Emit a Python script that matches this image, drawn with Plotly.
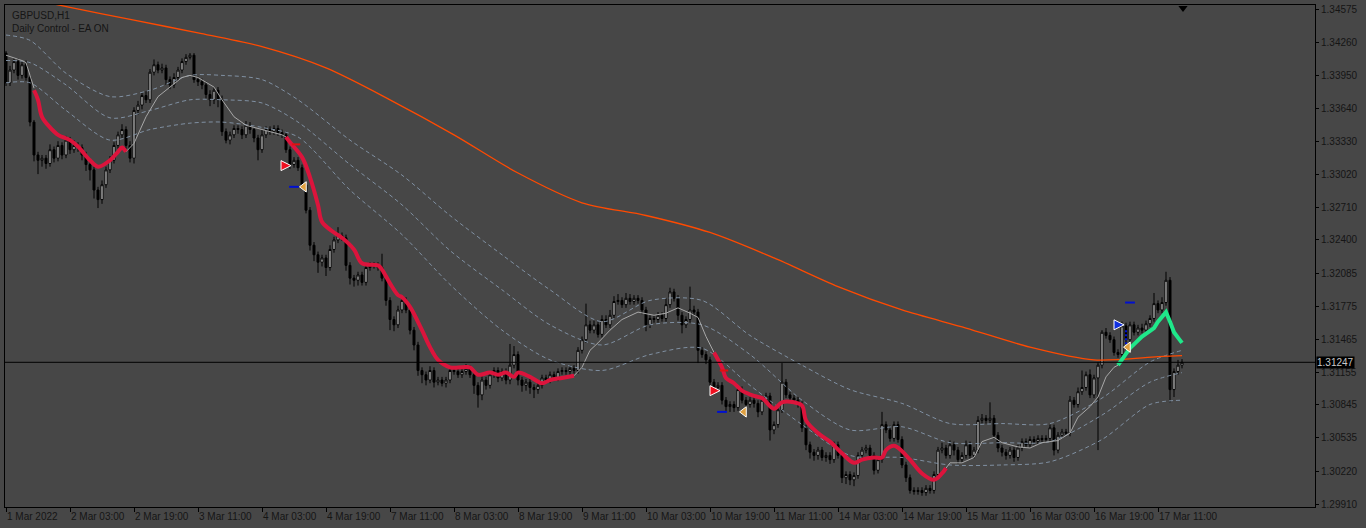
import plotly.graph_objects as go

# ---------------- data ----------------
O0 = 1.3416
C = [1.3388, 1.3400, 1.3408, 1.3395, 1.3405, 1.3393, 1.3351, 1.3320, 1.3315, 1.3317,
     1.3312, 1.3325, 1.3317, 1.3329, 1.3320, 1.3334, 1.3325, 1.3329, 1.3327, 1.3320,
     1.3311, 1.3306, 1.3287, 1.3278, 1.3292, 1.3306, 1.3315, 1.3329, 1.3339, 1.3344,
     1.3329, 1.3317, 1.3362, 1.3367, 1.3376, 1.3372, 1.3398, 1.3405, 1.3400, 1.3402,
     1.3391, 1.3386, 1.3393, 1.3400, 1.3408, 1.3412, 1.3414, 1.3391, 1.3389, 1.3386,
     1.3377, 1.3372, 1.3381, 1.3372, 1.3342, 1.3334, 1.3339, 1.3345, 1.3344, 1.3339,
     1.3348, 1.3344, 1.3336, 1.3325, 1.3339, 1.3344, 1.3342, 1.3345, 1.3341, 1.3339,
     1.3325, 1.3311, 1.3315, 1.3308, 1.3292, 1.3268, 1.3235, 1.3226, 1.3219, 1.3223,
     1.3214, 1.3231, 1.3240, 1.3244, 1.3242, 1.3216, 1.3204, 1.3202, 1.3207, 1.3200,
     1.3214, 1.3216, 1.3216, 1.3214, 1.3204, 1.3183, 1.3165, 1.3160, 1.3174, 1.3183,
     1.3174, 1.3155, 1.3141, 1.3117, 1.3113, 1.3108, 1.3117, 1.3106, 1.3108, 1.3105,
     1.3108, 1.3117, 1.3116, 1.3113, 1.3116, 1.3119, 1.3113, 1.3103, 1.3094, 1.3108,
     1.3103, 1.3113, 1.3117, 1.3110, 1.3116, 1.3108, 1.3122, 1.3132, 1.3108, 1.3103,
     1.3106, 1.3101, 1.3099, 1.3103, 1.3110, 1.3108, 1.3113, 1.3110, 1.3116, 1.3117,
     1.3116, 1.3119, 1.3117, 1.3136, 1.3146, 1.3160, 1.3155, 1.3160, 1.3151, 1.3165,
     1.3160, 1.3169, 1.3182, 1.3183, 1.3179, 1.3185, 1.3182, 1.3185, 1.3183, 1.3174,
     1.3160, 1.3166, 1.3165, 1.3169, 1.3166, 1.3179, 1.3191, 1.3185, 1.3169, 1.3160,
     1.3165, 1.3174, 1.3172, 1.3136, 1.3132, 1.3127, 1.3106, 1.3101, 1.3103, 1.3089,
     1.3083, 1.3085, 1.3082, 1.3099, 1.3089, 1.3085, 1.3089, 1.3086, 1.3078, 1.3089,
     1.3093, 1.3061, 1.3066, 1.3080, 1.3106, 1.3094, 1.3091, 1.3089, 1.3085, 1.3063,
     1.3047, 1.3040, 1.3037, 1.3042, 1.3035, 1.3037, 1.3033, 1.3047, 1.3037, 1.3016,
     1.3019, 1.3014, 1.3018, 1.3037, 1.3042, 1.3044, 1.3037, 1.3023, 1.3033, 1.3066,
     1.3061, 1.3053, 1.3066, 1.3052, 1.3028, 1.3016, 1.3004, 1.3003, 1.3004, 1.3002,
     1.3006, 1.3004, 1.3019, 1.3042, 1.3044, 1.3037, 1.3047, 1.3042, 1.3033, 1.3037,
     1.3047, 1.3037, 1.3042, 1.3070, 1.3072, 1.3070, 1.3072, 1.3056, 1.3044, 1.3040,
     1.3037, 1.3042, 1.3035, 1.3044, 1.3050, 1.3047, 1.3052, 1.3050, 1.3053, 1.3052,
     1.3053, 1.3063, 1.3042, 1.3056, 1.3059, 1.3058, 1.3089, 1.3085, 1.3097, 1.3101,
     1.3113, 1.3094, 1.3110, 1.3122, 1.3153, 1.3150, 1.3146, 1.3134, 1.3132, 1.3159,
     1.3146, 1.3160, 1.3153, 1.3157, 1.3155, 1.3161, 1.3166, 1.3180, 1.3174, 1.3181,
     1.3202, 1.3099, 1.3116, 1.3122, 1.31247]

WU = [2, 4, 3, 3, 3, 4, 2, 2, 3, 3,  3, 5, 3, 4, 3, 4, 3, 5, 3, 3,
      3, 2, 3, 3, 4, 3, 4, 3, 3, 5,  3, 4, 3, 4, 3, 4, 3, 5, 3, 4,
      3, 3, 4, 3, 3, 3, 2, 2, 3, 3,  3, 4, 3, 3, 4, 3, 3, 3, 3, 3,
      4, 3, 3, 3, 5, 3, 3, 3, 3, 3,  3, 3, 3, 3, 3, 3, 3, 3, 3, 3,
      3, 4, 3, 8, 3, 3, 3, 3, 3, 3,  3, 3, 3, 3, 13, 3, 3, 3, 4, 4,
      3, 3, 3, 3, 3, 3, 4, 3, 3, 3,  3, 4, 3, 3, 3, 4, 3, 3, 3, 5,
      3, 3, 3, 3, 3, 3, 20, 8, 3, 3,  3, 3, 3, 3, 3, 3, 3, 3, 3, 3,
      3, 3, 3, 3, 3, 20, 4, 4, 3, 4,  4, 5, 5, 6, 3, 5, 4, 3, 3, 3,
      3, 3, 3, 3, 3, 6, 4, 3, 3, 3,  3, 22, 4, 3, 3, 3, 3, 3, 3, 3,
      3, 3, 3, 3, 3, 3, 3, 3, 3, 3,  3, 3, 3, 3, 18, 3, 3, 3, 3, 3,
      3, 3, 3, 3, 3, 3, 3, 3, 3, 3,  3, 3, 3, 3, 3, 3, 3, 3, 3, 12,
      3, 4, 3, 3, 3, 3, 3, 3, 3, 3,  3, 3, 3, 3, 5, 3, 4, 3, 3, 3,
      4, 3, 3, 4, 4, 3, 15, 3, 3, 3,  3, 3, 3, 3, 3, 3, 3, 3, 3, 3,
      3, 3, 3, 3, 3, 3, 4, 3, 4, 16,  3, 5, 3, 3, 2, 4, 3, 3, 3, 4,
      3, 3, 3, 3, 4, 3, 3, 10, 3, 5,  8, 3, 3, 5, 3]

WD = [3, 3, 3, 4, 3, 3, 4, 6, 13, 6,  5, 3, 4, 3, 4, 3, 4, 3, 4, 5,
      6, 10, 8, 8, 4, 3, 3, 3, 3, 3,  3, 4, 5, 4, 4, 3, 3, 3, 3, 3,
      5, 4, 3, 3, 3, 3, 2, 3, 4, 4,  4, 6, 4, 7, 4, 3, 4, 3, 4, 4,
      3, 4, 4, 10, 3, 3, 3, 3, 3, 3,  3, 4, 3, 3, 4, 3, 5, 6, 10, 4,
      8, 3, 3, 3, 3, 5, 6, 6, 5, 3,  3, 3, 3, 3, 3, 5, 10, 6, 3, 3,
      3, 4, 5, 5, 8, 5, 3, 5, 3, 3,  4, 3, 3, 3, 3, 3, 3, 8, 12, 5,
      4, 3, 3, 4, 3, 4, 4, 3, 5, 6,  5, 6, 8, 4, 3, 3, 3, 3, 3, 3,
      3, 3, 3, 3, 3, 3, 3, 3, 3, 3,  3, 3, 3, 3, 3, 3, 3, 3, 3, 4,
      6, 3, 3, 3, 3, 3, 3, 3, 5, 8,  3, 3, 3, 12, 3, 4, 4, 3, 4, 4,
      4, 5, 4, 3, 3, 3, 3, 4, 5, 3,  3, 10, 4, 3, 3, 3, 3, 3, 3, 4,
      5, 6, 5, 4, 3, 4, 4, 3, 3, 5,  6, 5, 6, 3, 3, 3, 3, 4, 3, 3,
      3, 3, 3, 3, 3, 4, 3, 3, 3, 3,  3, 3, 3, 3, 3, 3, 3, 5, 4, 3,
      3, 3, 3, 3, 3, 3, 3, 3, 4, 4,  4, 3, 4, 3, 3, 3, 3, 3, 3, 3,
      3, 3, 5, 3, 3, 3, 3, 3, 3, 3,  3, 3, 3, 68, 3, 3, 3, 3, 3, 3,
      3, 3, 3, 3, 3, 3, 3, 3, 3, 3,  3, 12, 7, 3, 3]

PIP = 0.0001

# Long moving average (orange)
ma_long_x = [0, 16, 32, 48, 64, 80, 96, 112, 128, 144, 160, 176, 192, 208, 224, 240, 256, 272, 288, 294]
ma_long_y = [1.3472, 1.3459, 1.3447, 1.3435, 1.3422, 1.3402, 1.3372, 1.3339, 1.3303, 1.3275,
             1.3263, 1.3247, 1.3223, 1.3196, 1.3174, 1.3157, 1.3139, 1.3127, 1.3130, 1.3131]

# Envelope bands (dashed)
band_x = [0, 6, 15, 26, 36, 46, 54, 64, 73, 86, 99, 111, 124, 136, 149, 161, 174, 186, 199, 211,
          224, 236, 249, 261, 274, 286, 294]
band_up = [1.3433, 1.3428, 1.3397, 1.3375, 1.3381, 1.3395, 1.3395, 1.3391, 1.3372, 1.3334, 1.3301,
           1.3263, 1.3226, 1.3193, 1.3163, 1.3183, 1.3183, 1.3150, 1.3122, 1.3099, 1.3086, 1.3067,
           1.3067, 1.3067, 1.3091, 1.3125, 1.3136]
band_mid = [1.3409, 1.3407, 1.3386, 1.3355, 1.3362, 1.3372, 1.3372, 1.3369, 1.3351, 1.3311, 1.3273,
            1.3230, 1.3193, 1.3160, 1.3141, 1.3160, 1.3160, 1.3132, 1.3089, 1.3061, 1.3064, 1.3049,
            1.3049, 1.3050, 1.3075, 1.3106, 1.3115]
band_dn = [1.3388, 1.3388, 1.3362, 1.3334, 1.3344, 1.3350, 1.3351, 1.3346, 1.3337, 1.3287, 1.3245,
           1.3198, 1.3155, 1.3127, 1.3117, 1.3132, 1.3138, 1.3103, 1.3066, 1.3037, 1.3035, 1.3028,
           1.3028, 1.3031, 1.3052, 1.3085, 1.3089]

# Trend moving average, split by state (neutral / sell / buy)
ma_neutral = [
    ([0, 4, 5, 7], [1.3414, 1.3409, 1.3407, 1.3383]),
    ([30, 32, 35, 38, 40, 44, 46, 48, 52, 54, 57, 60, 64, 69, 70],
     [1.3323, 1.3331, 1.3356, 1.3375, 1.3381, 1.3393, 1.3395, 1.3393, 1.3384, 1.3372, 1.3356,
      1.3348, 1.3344, 1.3339, 1.3337]),
    ([142, 144, 146, 148, 151, 154, 158, 162, 165, 168, 171, 173, 175, 177],
     [1.3112, 1.3120, 1.3136, 1.3143, 1.3155, 1.3165, 1.3172, 1.3169, 1.3171, 1.3176, 1.3171,
      1.3167, 1.3149, 1.3134]),
    ([235, 236, 239, 242, 244, 247, 249, 253, 256, 259, 263, 266, 268, 271, 273, 275, 277, 278],
     [1.3025, 1.3030, 1.3030, 1.3035, 1.3050, 1.3054, 1.3049, 1.3045, 1.3044, 1.3049, 1.3051,
      1.3058, 1.3073, 1.3083, 1.3092, 1.3111, 1.3120, 1.3122]),
]
ma_sell = [
    ([7, 8, 9, 11, 13, 16, 18, 21, 23, 26, 28, 29, 30],
     [1.3381, 1.3372, 1.3356, 1.3346, 1.3339, 1.3334, 1.3328, 1.3315, 1.3309, 1.3315, 1.3323,
      1.3327, 1.3323]),
    ([70, 71, 74, 76, 78, 79, 82, 84, 87, 89, 93, 94, 96, 98, 99, 101, 104, 106, 108, 111, 114,
      116, 118, 121, 123, 125, 127, 128, 131, 134, 136, 139, 142],
     [1.3337, 1.3332, 1.3318, 1.3299, 1.3273, 1.3257, 1.3247, 1.3242, 1.3231, 1.3218, 1.3216,
      1.3212, 1.3199, 1.3188, 1.3186, 1.3177, 1.3155, 1.3139, 1.3127, 1.3120, 1.3120, 1.3120,
      1.3113, 1.3115, 1.3113, 1.3115, 1.3111, 1.3115, 1.3111, 1.3105, 1.3108, 1.3110, 1.3112]),
    ([177, 179, 180, 182, 184, 187, 189, 192, 194, 197, 199, 200, 203, 206, 209, 212, 214, 217,
      219, 220, 222, 224, 226, 229, 232, 234, 235],
     [1.3134, 1.3120, 1.3110, 1.3105, 1.3098, 1.3093, 1.3091, 1.3081, 1.3087, 1.3087, 1.3084,
      1.3070, 1.3058, 1.3050, 1.3039, 1.3030, 1.3033, 1.3035, 1.3035, 1.3042, 1.3046, 1.3041,
      1.3033, 1.3020, 1.3014, 1.3020, 1.3025]),
]
ma_buy = [
    ([278, 281, 284, 287, 288, 290, 291, 292, 293, 294],
     [1.3122, 1.3138, 1.3149, 1.3157, 1.3163, 1.3172, 1.3163, 1.3153, 1.3148, 1.3143]),
]

# Signals
sell_arrow_x = [71.25, 178.5]
sell_arrow_y = [1.3310, 1.3098]
buy_arrow_x = [279.5]
buy_arrow_y = [1.3160]
close_tri_x = [74.5, 184.5, 280.5]
close_tri_y = [1.3290, 1.3078, 1.3139]
blue_dash_x = [72, 179, 281]
blue_dash_y = [1.3290, 1.3078, 1.3181]
red_dash_x = [72.5, 179.5]
red_dash_y = [1.3330, 1.3117]

current_price = 1.31247

x_tick_bars = [0, 16, 32, 48, 64, 80, 96, 112, 128, 144, 160, 176, 192, 208, 224, 240, 256, 272, 288]
x_tick_text = ["1 Mar 2022", "2 Mar 03:00", "2 Mar 19:00", "3 Mar 11:00", "4 Mar 03:00",
               "4 Mar 19:00", "7 Mar 11:00", "8 Mar 03:00", "8 Mar 19:00", "9 Mar 11:00",
               "10 Mar 03:00", "10 Mar 19:00", "11 Mar 11:00", "14 Mar 03:00", "14 Mar 19:00",
               "15 Mar 11:00", "16 Mar 03:00", "16 Mar 19:00", "17 Mar 11:00"]
y_tick_vals = [1.34575, 1.34260, 1.33950, 1.33640, 1.33330, 1.33020, 1.32710, 1.32400,
               1.32085, 1.31775, 1.31465, 1.31155, 1.30845, 1.30535, 1.30220, 1.29910]

# ---------------- figure ----------------
n = len(C)
bars = list(range(n))
O = [O0] + C[:-1]
H = [max(o, c) + u * PIP for o, c, u in zip(O, C, WU)]
L = [min(o, c) - d * PIP for o, c, d in zip(O, C, WD)]

BG = "#474747"
TXT = "#151515"
FONT = "Liberation Sans, Arial, sans-serif"

fig = go.Figure()

for yy in (band_up, band_mid, band_dn):
    fig.add_trace(go.Scatter(x=band_x, y=yy, mode="lines",
                             line=dict(color="#8090a2", width=1, dash="4px,3px", shape="spline",
                                       smoothing=0.8),
                             hoverinfo="skip"))

fig.add_trace(go.Scatter(x=ma_long_x, y=ma_long_y, mode="lines",
                         line=dict(color="#ff4a00", width=1.3, shape="spline", smoothing=0.8),
                         hoverinfo="skip"))

fig.add_trace(go.Candlestick(
    x=bars, open=O, high=H, low=L, close=C,
    increasing=dict(line=dict(color="#000000", width=1), fillcolor="#ffffff"),
    decreasing=dict(line=dict(color="#000000", width=1), fillcolor="#000000"),
    hoverinfo="skip"))

for xs, ys in ma_neutral:
    fig.add_trace(go.Scatter(x=xs, y=ys, mode="lines",
                             line=dict(color="#a8a8a8", width=1), hoverinfo="skip"))
for xs, ys in ma_sell:
    fig.add_trace(go.Scatter(x=xs, y=ys, mode="lines",
                             line=dict(color="#dc143c", width=4, shape="spline"), hoverinfo="skip"))
for xs, ys in ma_buy:
    fig.add_trace(go.Scatter(x=xs, y=ys, mode="lines",
                             line=dict(color="#1fe88a", width=4), hoverinfo="skip"))

fig.add_trace(go.Scatter(x=red_dash_x, y=red_dash_y, mode="markers",
                         marker=dict(symbol="line-ew", size=6, line=dict(color="#e01010", width=2)),
                         hoverinfo="skip"))
fig.add_trace(go.Scatter(x=blue_dash_x, y=blue_dash_y, mode="markers",
                         marker=dict(symbol="line-ew", size=7, line=dict(color="#0010d0", width=2)),
                         hoverinfo="skip"))
fig.add_trace(go.Scatter(x=[280, 280], y=[1.3155, 1.3142], mode="lines",
                         line=dict(color="#0010d0", width=2, dash="2px,2px"), hoverinfo="skip"))
fig.add_trace(go.Scatter(x=sell_arrow_x, y=sell_arrow_y, mode="markers",
                         marker=dict(symbol="arrow-right", size=10, color="#f01020",
                                     line=dict(color="#ffffff", width=1)), hoverinfo="skip"))
fig.add_trace(go.Scatter(x=buy_arrow_x, y=buy_arrow_y, mode="markers",
                         marker=dict(symbol="arrow-right", size=10, color="#1030e0",
                                     line=dict(color="#ffffff", width=1)), hoverinfo="skip"))
fig.add_trace(go.Scatter(x=close_tri_x, y=close_tri_y, mode="markers",
                         marker=dict(symbol="triangle-left", size=9, color="#e0a040",
                                     line=dict(color="#ffffff", width=1)), hoverinfo="skip"))
# chart-shift marker at the top
fig.add_trace(go.Scatter(x=[294.25], y=[1.34585], mode="markers", cliponaxis=False,
                         marker=dict(symbol="triangle-down", size=8, color="#000000"),
                         hoverinfo="skip"))

fig.add_shape(type="line", xref="paper", x0=0, x1=1, yref="y", y0=current_price, y1=current_price,
              line=dict(color="#000000", width=1))

annotations = []
for b, t in zip(x_tick_bars, x_tick_text):
    annotations.append(dict(x=b, y=0, xref="x", yref="paper", text=t, showarrow=False,
                            xanchor="left", yanchor="top", yshift=-2, xshift=-1,
                            font=dict(family=FONT, size=10, color=TXT)))
annotations.append(dict(x=1, xref="paper", y=current_price, yref="y", text=f"{current_price:.5f}",
                        showarrow=False, xanchor="left", yanchor="middle", xshift=1,
                        bgcolor="#000000", borderpad=0,
                        font=dict(family=FONT, size=10, color="#c8c8c8")))
annotations.append(dict(x=0, y=1, xref="paper", yref="paper", text="GBPUSD,H1", showarrow=False,
                        xanchor="left", yanchor="middle", xshift=5, yshift=-10,
                        font=dict(family=FONT, size=10, color=TXT)))
annotations.append(dict(x=0, y=1, xref="paper", yref="paper", text="Daily Control - EA ON",
                        showarrow=False, xanchor="left", yanchor="middle", xshift=5, yshift=-23,
                        font=dict(family=FONT, size=10, color=TXT)))

fig.update_layout(
    width=1366, height=528,
    margin=dict(l=5, r=51, t=5, b=21),
    paper_bgcolor=BG, plot_bgcolor=BG,
    showlegend=False, hovermode=False,
    annotations=annotations,
    xaxis=dict(range=[-0.25, 327.25], showgrid=False, zeroline=False,
               showline=True, mirror=True, linecolor="#000000", linewidth=1,
               ticks="outside", ticklen=4, tickcolor="#000000",
               tickvals=x_tick_bars, showticklabels=False,
               rangeslider=dict(visible=False), fixedrange=True),
    yaxis=dict(range=[1.29884, 1.34613], side="right", showgrid=False, zeroline=False,
               showline=True, mirror=True, linecolor="#000000", linewidth=1,
               ticks="outside", ticklen=3, tickcolor="#000000",
               tickvals=y_tick_vals, ticktext=[f"{v:.5f}" for v in y_tick_vals],
               tickfont=dict(family=FONT, size=10, color=TXT), fixedrange=True),
)

fig.write_html("out.html")
